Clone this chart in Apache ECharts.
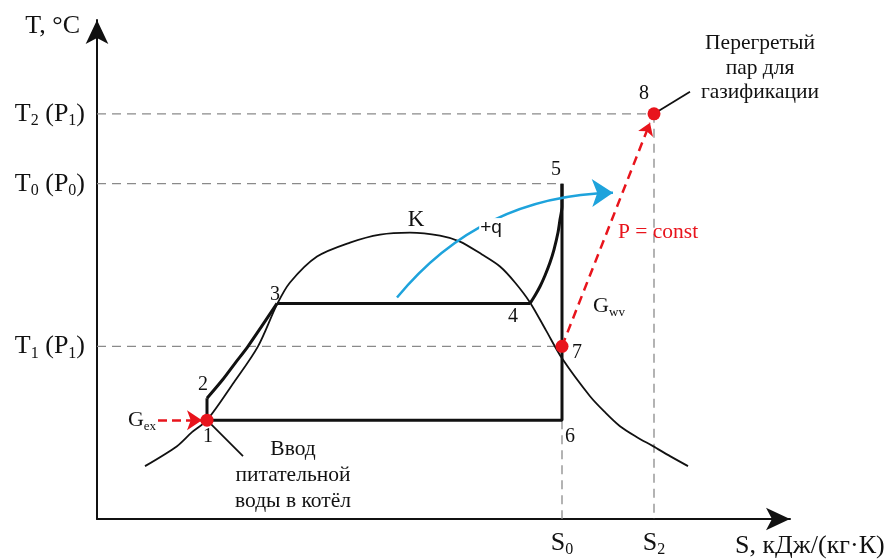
<!DOCTYPE html>
<html><head><meta charset="utf-8">
<script src="https://cdn.jsdelivr.net/npm/echarts@6/dist/echarts.min.js"></script>
<style>html,body{margin:0;padding:0;background:#fff}#c{width:889px;height:559px}</style>
</head><body><div id="c"></div>
<script>
const X_MAX = 693, Y_MAX = 500;
const yTickValues = [173, 336, 406];
const yTickLabels = ['T_1 (P_1)', 'T_0 (P_0)', 'T_2 (P_1)'];
const xTickValues = [465, 557];
const xTickLabels = ['S_0', 'S_2'];

// saturation (boundary) curve with critical point K
const saturationCurve = [[48,53],[80,73],[95,87],[110,99],[137,137],[161,173],[180,215],[193,237],[220,263],[253,277],[283,285],[313,287],[343,284],[363,278],[385,265],[403,253],[418,237],[433,217],[449,189],[465,161],[493,123],[508,107],[523,93],[540,82],[556,73],[573,63],[591,53]];
// cycle 1-2-3-4-5-6
const cycle23 = [[110,121],[126,140],[138,156],[151,173],[180,216]];
const cycle34 = [[180,216],[433,216]];
const cycle45 = [[433,216],[438,224],[443,233],[448,244],[453,257],[457,270],[461,287],[463,300],[465,313],[465,336]];
const cycle5612 = [[465,336],[465,99],[110,99],[110,121]];
const feedLeader = [[110,99],[146,63]];
const steamLeader = [[557,406],[593,428]];
// guides
const guideT2 = [[0,406],[557,406]];
const guideT0 = [[0,336],[465,336]];
const guideT1 = [[0,173],[465,173]];
const guideS0 = [[465,99],[465,0]];
const guideS2 = [[557,406],[557,0]];
// red points 1, 7, 8
const redPoints = [[110,99],[465,173],[557,406]];
// arrows
const arrowHeat = [[300,222],[516,327]];
const arrowP = [[465,173],[553,397]];
const arrowGex = [[61,99],[105,99]];
// labels [text, x, y]
const pointLabels = [['1',111,82],['2',106,135],['3',178,225],['4',416,203],['5',459,350],['6',473,82],['7',480,167],['8',547,426]];
const feedText = ['Ввод','питательной','воды в котёл'];
const steamText = ['Перегретый','пар для','газификации'];

const SERIF = 'Liberation Serif';
function rich(t){ return '{b|' + t.replace(/_(\w+)/g, '}{s|$1}{b|') + '}'; }
const richStyle = (size, color) => ({
  b: {fontSize: size, fontFamily: SERIF, color: color, lineHeight: size + 4},
  s: {fontSize: Math.round(size*0.6), fontFamily: SERIF, color: color, verticalAlign: 'bottom'}
});

function poly(data, color, width, type, smooth) {
  return {type: 'line', data: data, symbol: 'none', silent: true, smooth: smooth || false,
    lineStyle: {color: color, width: width, type: type || 'solid'}, z: 2};
}
const GREY = '#8a8a8a', RED = '#e8141c', BLUE = '#1ea3dc', BLACK = '#111';
const dash = [9, 6];

const labelData = pointLabels.map(l => ({value: [l[1], l[2]], name: l[0]}));
labelData.push({value: [319, 300], name: 'K', label: {fontSize: 23}});
labelData.push({value: [394, 292], name: '+q', label: {fontFamily: 'Liberation Sans', fontSize: 19, backgroundColor: '#fff', padding: [0, 1]}});
labelData.push({value: [561, 287], name: 'P = const', label: {color: RED, fontSize: 21.5}});
labelData.push({value: [512, 213], name: 'G_wv', label: {formatter: p => rich(p.name), rich: richStyle(22, BLACK)}});
labelData.push({value: [45, 99], name: 'G_ex', label: {formatter: p => rich(p.name), rich: richStyle(22, BLACK)}});
labelData.push({value: [196, 44], name: feedText.join('\n'), label: {fontSize: 21.5, lineHeight: 26}});
labelData.push({value: [663, 452], name: steamText.join('\n'), label: {fontSize: 21.5, lineHeight: 24.5}});

const chart = echarts.init(document.getElementById('c'), null, {renderer: 'canvas'});
chart.setOption({
  animation: false,
  backgroundColor: '#fff',
  grid: {left: 97, right: 889 - 790, top: 20, bottom: 559 - 520, containLabel: false},
  xAxis: {
    type: 'value', min: 0, max: X_MAX,
    axisLine: {show: true, onZero: false, lineStyle: {color: BLACK, width: 2}, symbol: ['none', 'arrow'], symbolSize: [17, 24]},
    axisTick: {show: false}, splitLine: {show: false},
    axisLabel: {customValues: xTickValues, margin: 9,
      formatter: v => rich(xTickLabels[xTickValues.indexOf(v)]), rich: richStyle(26, BLACK)},
    name: 'S, кДж/(кг·К)', nameLocation: 'end', nameGap: -55,
    nameTextStyle: {fontFamily: SERIF, fontSize: 26, color: BLACK, verticalAlign: 'top', align: 'left', padding: [14, 0, 0, 0]}
  },
  yAxis: {
    type: 'value', min: 0, max: Y_MAX,
    axisLine: {show: true, onZero: false, lineStyle: {color: BLACK, width: 2}, symbol: ['none', 'arrow'], symbolSize: [17, 24]},
    axisTick: {show: false}, splitLine: {show: false},
    axisLabel: {customValues: yTickValues, margin: 12,
      formatter: v => rich(yTickLabels[yTickValues.indexOf(v)]), rich: richStyle(26, BLACK)},
    name: 'T, °C', nameLocation: 'end', nameGap: -6,
    nameTextStyle: {fontFamily: SERIF, fontSize: 26, color: BLACK, align: 'right', verticalAlign: 'middle', padding: [0, 17, 0, 0]}
  },
  series: [
    poly(guideT2, GREY, 1.3, dash), poly(guideT0, GREY, 1.3, dash), poly(guideT1, GREY, 1.3, dash),
    poly(guideS0, GREY, 1.3, dash), poly(guideS2, GREY, 1.3, dash),
    poly(saturationCurve, BLACK, 1.8, 'solid', 0.3),
    poly(feedLeader, BLACK, 1.8), poly(steamLeader, BLACK, 1.8),
    poly(cycle23, BLACK, 3, 'solid', 0.3), poly(cycle34, BLACK, 3), poly(cycle45, BLACK, 3, 'solid', 0.25),
    poly(cycle5612, BLACK, 3),
    {type: 'lines', coordinateSystem: 'cartesian2d', silent: true, z: 3,
      symbol: ['none', 'arrow'], symbolSize: 21,
      lineStyle: {color: BLUE, width: 2.5, curveness: 0.23, opacity: 1},
      data: [{coords: arrowHeat}]},
    {type: 'lines', coordinateSystem: 'cartesian2d', silent: true, z: 3,
      symbol: ['none', 'arrow'], symbolSize: 12,
      lineStyle: {color: RED, width: 2.5, type: dash, curveness: 0, opacity: 1},
      data: [{coords: arrowP}]},
    {type: 'lines', coordinateSystem: 'cartesian2d', silent: true, z: 3,
      symbol: ['none', 'arrow'], symbolSize: 15,
      lineStyle: {color: RED, width: 2.5, type: [9, 5], curveness: 0, opacity: 1},
      data: [{coords: arrowGex}]},
    {type: 'scatter', data: redPoints, symbolSize: 13, itemStyle: {color: RED, opacity: 1}, silent: true, z: 5},
    {type: 'scatter', data: labelData, symbolSize: 0, silent: true, z: 6, itemStyle: {opacity: 1},
      label: {show: true, position: 'inside', formatter: p => p.name, fontFamily: SERIF, fontSize: 20, color: BLACK}}
  ]
});
</script></body></html>
